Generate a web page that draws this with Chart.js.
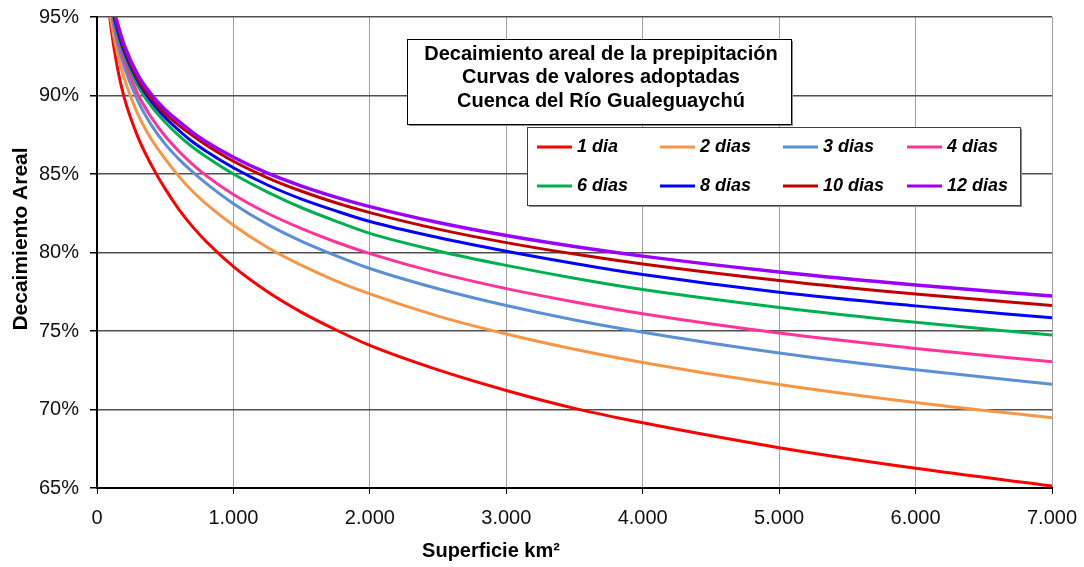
<!DOCTYPE html>
<html>
<head>
<meta charset="utf-8">
<script src="https://cdn.jsdelivr.net/npm/chart.js@4.4.0/dist/chart.umd.min.js"></script>
<style>
  html, body { margin: 0; padding: 0; background: #ffffff; }
  canvas { display: block; }
</style>
</head>
<body>
<canvas id="chart" width="1084" height="567"></canvas>
<script>
// Superficie (km²) at which each curve is sampled
const areas = [75, 100, 150, 200, 300, 400, 500, 600, 700, 800, 1000, 1250, 1500, 1750, 2000, 2500, 3000, 3500, 4000, 5000, 6000, 7000];

// Decaimiento areal (%) per storm duration
const dia1   = [96.5, 94.5, 91.75, 89.85, 87.35, 85.55, 84.05, 82.75, 81.65, 80.7, 79.1, 77.5, 76.19, 75.08, 74.08, 72.52, 71.21, 70.07, 69.15, 67.57, 66.26, 65.13];
const dias2  = [96.5, 94.9, 92.65, 91.1, 88.8, 87.2, 85.96, 84.85, 83.9, 83.1, 81.73, 80.32, 79.18, 78.2, 77.36, 75.95, 74.81, 73.84, 73.0, 71.59, 70.44, 69.47];
const dias3  = [97.2, 95.5, 93.3, 91.8, 89.65, 88.1, 86.9, 85.95, 85.13, 84.4, 83.11, 81.79, 80.71, 79.8, 78.98, 77.69, 76.62, 75.7, 74.92, 73.6, 72.53, 71.61];
const dias4  = [97.5, 95.8, 93.7, 92.2, 90.08, 88.58, 87.4, 86.45, 85.62, 84.9, 83.7, 82.5, 81.52, 80.67, 79.93, 78.7, 77.7, 76.85, 76.1, 74.87, 73.89, 73.04];
const dias6  = [97.6, 95.9, 93.9, 92.55, 90.6, 89.3, 88.3, 87.45, 86.72, 86.1, 85.0, 83.85, 82.85, 82.0, 81.22, 80.1, 79.18, 78.36, 77.64, 76.5, 75.55, 74.74];
const dias8  = [97.8, 96.1, 94.2, 92.8, 90.9, 89.6, 88.6, 87.78, 87.05, 86.45, 85.4, 84.3, 83.4, 82.65, 81.97, 80.95, 80.08, 79.3, 78.6, 77.47, 76.6, 75.84];
const dias10 = [97.9, 96.2, 94.4, 93.0, 91.05, 89.8, 88.85, 88.1, 87.45, 86.85, 85.81, 84.76, 83.9, 83.17, 82.54, 81.49, 80.63, 79.9, 79.27, 78.22, 77.36, 76.63];
const dias12 = [98.0, 96.3, 94.6, 93.2, 91.3, 90.05, 89.1, 88.35, 87.65, 87.05, 86.07, 85.05, 84.23, 83.53, 82.92, 81.91, 81.08, 80.38, 79.77, 78.76, 77.93, 77.23];

const seriesLabels = ['1 dia', '2 dias', '3 dias', '4 dias', '6 dias', '8 dias', '10 dias', '12 dias'];
const seriesValues = [dia1, dias2, dias3, dias4, dias6, dias8, dias10, dias12];
const seriesColors = ['#FF0000', '#F79646', '#5B8FD6', '#FF3399', '#00B050', '#0000FF', '#C00000', '#9900FF'];

const yTicks = [65, 70, 75, 80, 85, 90, 95];
const xTicks = [0, 1000, 2000, 3000, 4000, 5000, 6000, 7000];

const titleLines = ['Decaimiento areal de la prepipitación', 'Curvas de valores adoptadas', 'Cuenca del Río Gualeguaychú'];
const xTitle = 'Superficie km²';
const yTitle = 'Decaimiento Areal';

const FONT = '"Liberation Sans", Arial, Helvetica, sans-serif';

function fmtThousands(v) {
  return String(Math.round(v)).replace(/\B(?=(\d{3})+(?!\d))/g, '.');
}

function noScalePadding(scale) {
  scale.paddingTop = 0;
  scale.paddingBottom = 0;
  scale.paddingLeft = 0;
  scale.paddingRight = 0;
}

const datasets = seriesLabels.map((label, i) => ({
  label: label,
  data: areas.map((a, k) => ({ x: a, y: seriesValues[i][k] })),
  borderColor: seriesColors[i],
  backgroundColor: seriesColors[i],
  borderWidth: i === seriesLabels.length - 1 ? 3.5 : 3,
  pointRadius: 0,
  fill: false,
  cubicInterpolationMode: 'monotone',
  clip: 0,
  order: seriesLabels.length - 1 - i
}));

// Boxed title, legend and axis titles drawn over the plot
const annotations = {
  id: 'annotations',
  afterDraw(chart) {
    const ctx = chart.ctx;
    ctx.save();

    // axis titles
    ctx.fillStyle = '#000';
    ctx.font = 'bold 20px ' + FONT;
    ctx.textAlign = 'center';
    ctx.textBaseline = 'middle';
    ctx.fillText(xTitle, 491, 551);
    ctx.save();
    ctx.translate(21, 239);
    ctx.rotate(-Math.PI / 2);
    ctx.font = 'bold 21px ' + FONT;
    ctx.fillText(yTitle, 0, 0);
    ctx.restore();

    // title box
    const tb = { x: 407, y: 39, w: 384, h: 85 };
    ctx.fillStyle = '#8c8c8c';
    ctx.fillRect(tb.x + 2, tb.y + 2, tb.w, tb.h);
    ctx.fillStyle = '#fff';
    ctx.fillRect(tb.x, tb.y, tb.w, tb.h);
    ctx.strokeStyle = '#000';
    ctx.lineWidth = 1;
    ctx.strokeRect(tb.x + 0.5, tb.y + 0.5, tb.w, tb.h);
    ctx.fillStyle = '#000';
    ctx.font = 'bold 20px ' + FONT;
    const lineYs = [54, 77.5, 101];
    titleLines.forEach((t, i) => ctx.fillText(t, tb.x + tb.w / 2 + 2, lineYs[i]));

    // legend box
    const lb = { x: 527, y: 127, w: 493, h: 78 };
    ctx.fillStyle = '#8c8c8c';
    ctx.fillRect(lb.x + 2, lb.y + 2, lb.w, lb.h);
    ctx.fillStyle = '#fff';
    ctx.fillRect(lb.x, lb.y, lb.w, lb.h);
    ctx.strokeStyle = '#404040';
    ctx.strokeRect(lb.x + 0.5, lb.y + 0.5, lb.w, lb.h);

    const colX = [537, 660, 783, 907];
    const rowY = [147, 186];
    ctx.font = 'italic bold 18px ' + FONT;
    ctx.textAlign = 'left';
    chart.data.datasets.forEach((ds, i) => {
      const cx = colX[i % 4];
      const cy = rowY[Math.floor(i / 4)];
      ctx.strokeStyle = ds.borderColor;
      ctx.lineWidth = 3;
      ctx.beginPath();
      ctx.moveTo(cx, cy);
      ctx.lineTo(cx + 35, cy);
      ctx.stroke();
      ctx.fillStyle = '#000';
      ctx.fillText(ds.label, cx + 40, cy);
    });

    ctx.restore();
  }
};

new Chart(document.getElementById('chart'), {
  type: 'line',
  data: { datasets: datasets },
  options: {
    responsive: false,
    devicePixelRatio: 1,
    animation: false,
    events: [],
    layout: { padding: { top: 17, right: 32, left: 0, bottom: 0 } },
    plugins: {
      legend: { display: false },
      title: { display: false },
      tooltip: { enabled: false }
    },
    scales: {
      x: {
        type: 'linear',
        min: 0,
        max: 7000,
        afterBuildTicks(scale) { scale.ticks = xTicks.map(v => ({ value: v })); },
        afterFit(scale) { scale.height = 79; noScalePadding(scale); },
        grid: { color: '#a0a0a0', lineWidth: 1, tickLength: 6, tickColor: '#000' },
        border: { color: '#000', width: 2 },
        ticks: {
          color: '#111',
          font: { family: FONT, size: 20 },
          padding: 12,
          maxRotation: 0,
          autoSkip: false,
          callback: v => fmtThousands(v)
        }
      },
      y: {
        type: 'linear',
        min: 65,
        max: 95,
        afterBuildTicks(scale) { scale.ticks = yTicks.map(v => ({ value: v })); },
        afterFit(scale) { scale.width = 97; noScalePadding(scale); },
        grid: { color: '#505050', lineWidth: 1.5, tickLength: 7, tickColor: '#000' },
        border: { color: '#000', width: 2 },
        ticks: {
          color: '#111',
          font: { family: FONT, size: 20 },
          padding: 11,
          autoSkip: false,
          callback: v => v + '%'
        }
      }
    }
  },
  plugins: [annotations]
});
</script>
</body>
</html>
